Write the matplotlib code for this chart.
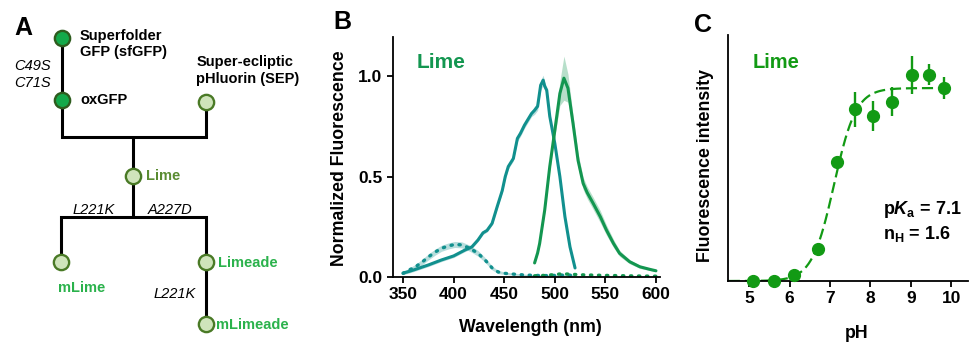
import numpy as np
import matplotlib
matplotlib.use("Agg")
import matplotlib.pyplot as plt

# ---------------- data ----------------
# Panel B: spectra (wavelength nm, normalized fluorescence, sd)
ex_wl = [350, 356, 361, 368, 375, 388, 400, 411, 418, 424, 429, 433, 438, 443, 448,
         451, 454, 459, 463, 466, 470, 477, 480, 483, 486, 488.5, 490, 492, 495, 500,
         505, 510, 515, 520]
ex_val = [0.02, 0.028, 0.036, 0.048, 0.06, 0.085, 0.105, 0.134, 0.15, 0.184, 0.22,
          0.232, 0.267, 0.35, 0.43, 0.50, 0.55, 0.59, 0.69, 0.715, 0.756, 0.814, 0.83,
          0.85, 0.955, 0.98, 0.95, 0.93, 0.80, 0.665, 0.5, 0.30, 0.15, 0.045]
ex_sd = [0.008, 0.008, 0.008, 0.008, 0.008, 0.008, 0.008, 0.008, 0.008, 0.008, 0.008,
         0.008, 0.008, 0.01, 0.01, 0.012, 0.012, 0.012, 0.015, 0.015, 0.015, 0.015, 0.02,
         0.02, 0.025, 0.025, 0.02, 0.015, 0.01, 0.008, 0.008, 0.008, 0.008, 0.006]

em_wl = [480, 483, 485, 490, 495, 500, 505, 509, 513, 518, 523, 528, 532, 538, 545,
         551, 558, 564, 574, 584, 594, 600]
em_val = [0.07, 0.12, 0.167, 0.333, 0.55, 0.73, 0.914, 0.99, 0.94, 0.765, 0.58, 0.466,
          0.42, 0.366, 0.30, 0.234, 0.167, 0.118, 0.076, 0.051, 0.038, 0.031]
em_sd = [0.005, 0.008, 0.01, 0.015, 0.02, 0.03, 0.06, 0.11, 0.07, 0.04, 0.035, 0.03,
         0.03, 0.03, 0.03, 0.025, 0.02, 0.015, 0.01, 0.008, 0.006, 0.005]

dex_wl = [350, 356, 362, 369, 375, 382, 388, 395, 401, 408, 416, 424, 431, 438, 444,
          451, 460, 470, 480, 490, 500, 510, 520]
dex_val = [0.018, 0.035, 0.05, 0.075, 0.10, 0.125, 0.143, 0.155, 0.162, 0.16, 0.143,
           0.118, 0.085, 0.045, 0.025, 0.018, 0.014, 0.01, 0.008, 0.007, 0.008, 0.01,
           0.008]
dex_sd = [0.006, 0.01, 0.012, 0.014, 0.015, 0.015, 0.015, 0.015, 0.015, 0.015, 0.015,
          0.014, 0.012, 0.01, 0.008, 0.006, 0.005, 0.004, 0.004, 0.004, 0.004, 0.004,
          0.004]

dem_wl = [480, 490, 500, 507, 515, 525, 540, 560, 580, 600]
dem_val = [0.006, 0.008, 0.012, 0.016, 0.014, 0.011, 0.009, 0.007, 0.005, 0.004]

# Panel C: pH titration
ph = [5.09, 5.62, 6.11, 6.71, 7.18, 7.62, 8.07, 8.54, 9.02, 9.44, 9.82]
fl = [0.0, 0.0, 0.03, 0.164, 0.615, 0.89, 0.857, 0.93, 1.067, 1.07, 1.0]
fl_err = [0, 0, 0, 0, 0, 0.09, 0.078, 0.075, 0.10, 0.056, 0.055]
pKa = 7.1
nH = 1.6
fit_top = 1.0

# ---------------- style ----------------
plt.rcParams['font.family'] = ['Liberation Sans', 'DejaVu Sans']
plt.rcParams['font.weight'] = 'bold'
plt.rcParams['mathtext.fontset'] = 'custom'
plt.rcParams['mathtext.rm'] = 'Liberation Sans:bold'
plt.rcParams['mathtext.bf'] = 'Liberation Sans:bold'
plt.rcParams['mathtext.it'] = 'Liberation Sans:italic:bold'

W, H = 969, 343
fig = plt.figure(figsize=(W / 100, H / 100), dpi=100)


def fx(x):
    return x / W


def fy(y):
    return 1 - y / H


TEAL = '#11908e'
GREEN = '#139650'
CGREEN = '#129a14'

# ---------------- Panel A ----------------
axA = fig.add_axes([0, 0, 1, 1])
axA.set_xlim(0, W)
axA.set_ylim(H, 0)
axA.axis('off')

lw_tree = 2.2
kw = dict(color='black', lw=lw_tree, solid_joinstyle='miter', solid_capstyle='butt', zorder=1)
axA.plot([61.7, 61.7], [37.7, 100], **kw)
axA.plot([61.7, 61.7, 205.7, 205.7], [100, 136.7, 136.7, 101.7], **kw)
axA.plot([133.3, 133.3], [136.7, 217.3], **kw)
axA.plot([61, 61, 205.7, 205.7], [261.7, 217.3, 217.3, 324], **kw)

DARK_FILL, DARK_EDGE = '#14a94a', '#2e5c1e'
LIGHT_FILL, LIGHT_EDGE = '#cfe4bb', '#4a7a26'
nodes = [((61.7, 37.7), True), ((61.7, 100), True), ((205.7, 101.7), False),
         ((133.3, 175.7), False), ((61, 261.7), False), ((205.7, 261.7), False),
         ((205.7, 324), False)]
for (x, y), dark in nodes:
    axA.plot(x, y, 'o', ms=11, mfc=DARK_FILL if dark else LIGHT_FILL,
             mec=DARK_EDGE if dark else LIGHT_EDGE, mew=1.7, zorder=3)

fsA = 10.5
axA.text(23, 28, 'A', fontsize=18, ha='center', va='center')
axA.text(80, 44, 'Superfolder\nGFP (sfGFP)', fontsize=fsA, ha='left', va='center',
         linespacing=1.25)
axA.text(80, 100, 'oxGFP', fontsize=fsA, ha='left', va='center')
axA.text(196.5, 70.5, 'Super-ecliptic\npHluorin (SEP)', fontsize=fsA, ha='left',
         va='center', linespacing=1.25)
axA.text(51, 74.5, 'C49S\nC71S', fontsize=fsA, ha='right', va='center',
         style='italic', fontweight='normal', linespacing=1.25)
axA.text(146, 176.5, 'Lime', fontsize=fsA, ha='left', va='center', color='#5a8c32')
axA.text(93.5, 209.5, 'L221K', fontsize=fsA, ha='center', va='center',
         style='italic', fontweight='normal')
axA.text(170.5, 209.5, 'A227D', fontsize=fsA, ha='center', va='center',
         style='italic', fontweight='normal')
axA.text(82, 288, 'mLime', fontsize=fsA, ha='center', va='center', color='#2bb24c')
axA.text(218.5, 263, 'Limeade', fontsize=fsA, ha='left', va='center', color='#2bb24c')
axA.text(175, 293.5, 'L221K', fontsize=fsA, ha='center', va='center',
         style='italic', fontweight='normal')
axA.text(216.5, 325, 'mLimeade', fontsize=fsA, ha='left', va='center', color='#2bb24c')

# ---------------- Panel B ----------------
axB = fig.add_axes([fx(393), fy(277), (660 - 393) / W, (277 - 37) / H])
axB.set_xlim(340, 604)
axB.set_ylim(0, 1.195)


def band(ax, x, y, s, c):
    x = np.asarray(x); y = np.asarray(y); s = np.asarray(s)
    ax.fill_between(x, y - s, y + s, color=c, alpha=0.3, lw=0)


band(axB, dex_wl, dex_val, dex_sd, TEAL)
axB.plot(dex_wl, dex_val, color=TEAL, lw=2.4, linestyle=(0, (0.4, 2.0)),
         dash_capstyle='round')
axB.plot(dem_wl, dem_val, color=GREEN, lw=2.4, linestyle=(0, (0.4, 2.0)),
         dash_capstyle='round')
band(axB, ex_wl, ex_val, ex_sd, TEAL)
axB.plot(ex_wl, ex_val, color=TEAL, lw=2.2, solid_capstyle='round')
band(axB, em_wl, em_val, em_sd, GREEN)
axB.plot(em_wl, em_val, color=GREEN, lw=2.2, solid_capstyle='round')

axB.set_xticks([350, 400, 450, 500, 550, 600])
axB.set_yticks([0, 0.5, 1.0])
axB.set_yticklabels(['0.0', '0.5', '1.0'])
for ax in (axB,):
    for s in ('top', 'right'):
        ax.spines[s].set_visible(False)
    for s in ('left', 'bottom'):
        ax.spines[s].set_linewidth(1.3)
axB.tick_params(direction='out', length=4.5, width=1.3, labelsize=12.5, pad=3)

fig.text(fx(342), fy(22), 'B', fontsize=18, ha='center', va='center')
fig.text(fx(417), fy(63), 'Lime', fontsize=15, ha='left', va='center', color=GREEN)
fig.text(fx(340), fy(158), 'Normalized Fluorescence', fontsize=12.8, rotation=90,
         ha='center', va='center')
fig.text(fx(530), fy(328), 'Wavelength (nm)', fontsize=12.8, ha='center', va='center')

# ---------------- Panel C ----------------
axC = fig.add_axes([fx(728), fy(281), (968 - 728) / W, (281 - 35) / H])
axC.set_xlim(4.48, 10.41)
axC.set_ylim(0, 1.275)
for s in ('top', 'right'):
    axC.spines[s].set_visible(False)
for s in ('left', 'bottom'):
    axC.spines[s].set_linewidth(1.3)
axC.set_xticks([5, 6, 7, 8, 9, 10])
axC.set_yticks([])
axC.tick_params(axis='x', direction='out', length=4.5, width=1.3, labelsize=12.5, pad=3)

ph_fit = np.linspace(4.5, 9.85, 300)
fit = fit_top / (1 + 10 ** (nH * (pKa - ph_fit)))
axC.plot(ph_fit, fit, color=CGREEN, lw=1.6, linestyle=(0, (5, 2.2)), zorder=2)
axC.errorbar(ph, fl, yerr=fl_err, fmt='o', color=CGREEN, ms=8.5, elinewidth=1.7,
             capsize=0, zorder=3, clip_on=False)

fig.text(fx(703), fy(25), 'C', fontsize=18, ha='center', va='center')
fig.text(fx(753), fy(62), 'Lime', fontsize=14.5, ha='left', va='center', color=CGREEN)
fig.text(fx(883), fy(210), r'p$\mathit{K}_{\mathrm{a}}$ = 7.1', fontsize=13,
         ha='left', va='center')
fig.text(fx(883), fy(234), r'n$_{\mathrm{H}}$ = 1.6', fontsize=13, ha='left', va='center')
fig.text(fx(705), fy(165), 'Fluorescence intensity', fontsize=12.8, rotation=90,
         ha='center', va='center')
fig.text(fx(857), fy(333), 'pH', fontsize=12.8, ha='center', va='center')

fig.savefig('out.png', dpi=100)
